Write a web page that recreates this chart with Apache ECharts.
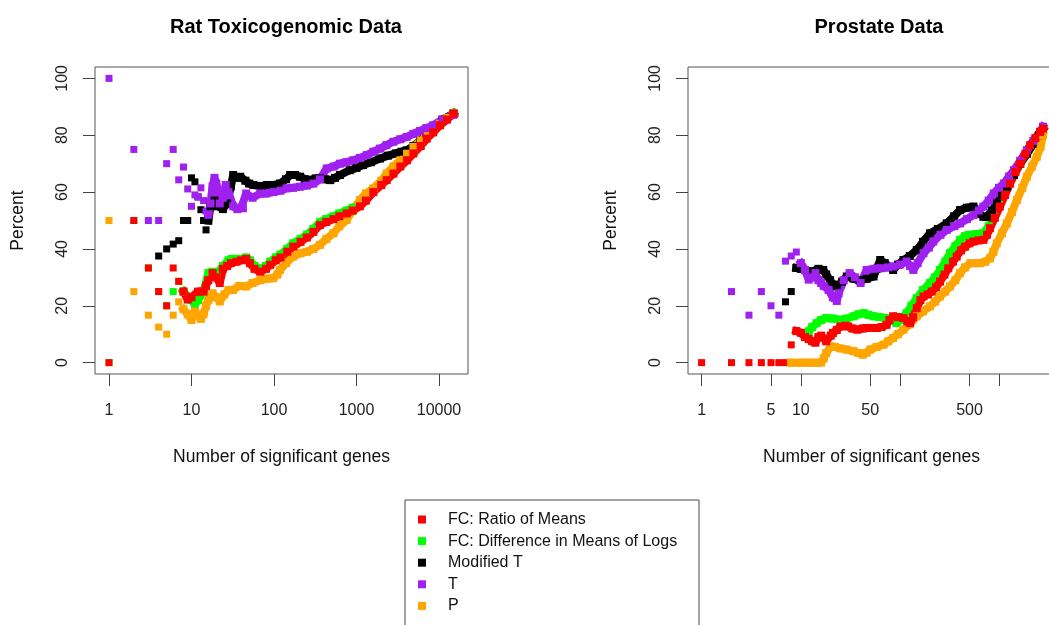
<!DOCTYPE html>
<html>
<head>
<meta charset="utf-8">
<script src="https://cdn.jsdelivr.net/npm/echarts@6/dist/echarts.min.js"></script>
<style>
  html, body { margin: 0; padding: 0; background: #fff; }
  #chart { width: 1049px; height: 625px; }
</style>
</head>
<body>
<div id="chart"></div>
<script>
// method names, in legend order
const methods = ["FC: Ratio of Means", "FC: Difference in Means of Logs", "Modified T", "T", "P"];
const methodColors = ["#FF0000", "#00FF00", "#000000", "#A020F0", "#FFA500"];

// x tick labels (number of significant genes)
const ratTicks = [1, 10, 100, 1000, 10000];
const prostateTicks = [1, 5, 10, 50, 100, 500, 1000];
const prostateTickLabels = [1, 5, 10, 50, 500];
const percentTicks = [0, 20, 40, 60, 80, 100];

// ---- Rat Toxicogenomic data: [genes, percent] ----
const ratRedDots = [[1, 0], [2, 50], [3, 33.3], [4, 25], [5, 20], [6, 33.3], [7, 28.6]];
const ratRedBand = [[8, 25], [9, 22.2], [10, 23], [12, 25], [14, 25], [15, 27], [16, 29], [18, 31.5], [20, 30],
  [22, 28], [24, 33], [27, 34], [30, 35], [35, 35.5], [40, 36], [46, 36.5], [51, 35], [58, 33], [68, 32],
  [80, 33], [90, 34.4], [105, 36], [120, 37], [145, 39], [171, 40.8], [210, 42.5], [250, 44], [300, 46],
  [360, 48.4], [430, 49.5], [525, 50.5], [620, 51.5], [760, 52.5], [900, 53.5], [1100, 55], [1300, 57],
  [1600, 60], [2000, 62.5], [2320, 64.2], [2800, 66.5], [3400, 69], [4100, 71.2], [4900, 73.6], [6000, 76.2],
  [7100, 78.8], [8500, 81], [10300, 83.5], [12500, 85.5], [15000, 87.6]];

const ratGreenDots = [[1, 0], [2, 50], [3, 33.3], [4, 25], [5, 20], [6, 25], [7, 28.6]];
const ratGreenBand = [[8, 25], [10, 22], [11, 20.4], [12, 22], [14, 25], [16, 31.5], [18, 32], [20, 31],
  [24, 34], [28, 36], [31, 36.5], [35, 36.5], [40, 36.5], [46, 37], [51, 36], [58, 34], [68, 33], [80, 34],
  [90, 35.5], [105, 37], [120, 38], [145, 40], [171, 42], [210, 43.5], [250, 45], [300, 47], [360, 49.4],
  [430, 50.5], [525, 51.5], [620, 52.5], [760, 53.5], [900, 54.5], [1100, 56], [1300, 58], [1600, 61],
  [2000, 63.5], [2320, 65], [2800, 67.3], [3400, 69.8], [4100, 72], [4900, 74.2], [6000, 76.8], [7100, 79.3],
  [8500, 81.5], [10300, 84], [12500, 86], [15000, 87.8]];

const ratBlackDots = [[4, 37.5], [5, 40], [6, 41.7], [7, 42.9], [8, 50], [9, 50], [10, 65], [11, 63.6],
  [12, 58.3], [13, 53.8], [14, 50], [15, 46.7]];
const ratBlackBand = [[16, 50], [17, 55], [19, 57], [21, 55], [24, 54], [27, 56], [30, 62], [32, 66], [36, 65],
  [39, 65.4], [45, 64], [50, 63], [56, 62.5], [71, 62], [82, 62.5], [100, 62.5], [118, 63], [140, 64.5],
  [157, 66], [180, 66], [207, 65.4], [240, 64.5], [270, 64.2], [320, 64.8], [360, 64.8], [420, 64.5],
  [480, 64.2], [550, 65], [630, 66], [830, 67.7], [1000, 68.5], [1200, 69.5], [1500, 70.5], [1930, 71.8],
  [2400, 72.8], [3000, 73.6], [3500, 74.2], [4050, 74.7], [4900, 76.2], [5900, 78], [7000, 80.5],
  [8500, 82.8], [11000, 85.5], [15000, 87.6]];

const ratPurpleDots = [[1, 100], [2, 75], [3, 50], [4, 50], [5, 70], [6, 75], [7, 64.3], [8, 68.8], [9, 61.1],
  [10, 55], [11, 59], [12, 58.3], [13, 61.5], [14, 57], [15, 53.3]];
const ratPurpleBand = [[16, 52], [17, 56], [18, 62], [19, 65], [20, 63], [22, 56], [24, 58], [26, 62.5],
  [28, 60], [32, 55], [36, 54], [40, 54.5], [42, 54.3], [46, 59.5], [55, 58], [68, 59.5], [80, 59.5],
  [98, 60], [120, 60.5], [142, 61.3], [170, 61.5], [207, 61.9], [250, 62.3], [300, 63], [360, 64.5],
  [435, 68.3], [530, 69], [630, 70], [750, 70.5], [915, 71.2], [1100, 72], [1330, 73], [1600, 74.2],
  [1930, 75.3], [2300, 76.5], [2800, 77.7], [3400, 78.6], [4050, 79.4], [4900, 80.5], [5900, 81.5],
  [7000, 82.5], [8500, 83.5], [11000, 85.5], [15000, 87.2]];

const ratOrangeDots = [[1, 50], [2, 25], [3, 16.7], [4, 12.5], [5, 10], [6, 16.7], [7, 21.4]];
const ratOrangeBand = [[8, 18.8], [9, 17], [10, 15], [11, 18], [12, 16.7], [13, 15.4], [14, 17], [15, 20],
  [16, 22], [18, 24.4], [20, 23], [22, 21.5], [25, 24], [28, 25.5], [32, 25.6], [38, 27], [46, 26.8],
  [55, 28], [68, 29], [80, 29.5], [98, 29.7], [110, 31], [118, 32.6], [140, 35], [171, 37.3], [210, 38.5],
  [250, 39], [300, 40], [360, 41.4], [430, 43.5], [525, 45.5], [620, 48], [760, 50.2], [900, 53.5],
  [1100, 57.2], [1300, 59.5], [1600, 61.3], [2000, 64], [2320, 66.5], [2800, 69], [3400, 71.2], [4100, 73.5],
  [4900, 75.9], [6000, 78], [7100, 80], [8500, 82], [10300, 84], [12500, 86], [15000, 87.6]];

// ---- Prostate data: [genes, percent] ----
const proRedDots = [[1, 0], [2, 0], [3, 0], [4, 0], [5, 0], [6, 0], [7, 0], [8, 6.25]];
const proRedBand = [[9, 11.1], [10, 10.5], [11, 9], [12, 8.3], [13, 7.5], [14, 7], [15, 9], [16, 9.5],
  [18, 7.5], [20, 9.5], [21, 10.4], [23, 11.5], [25, 12.7], [28, 13], [30, 12.7], [33, 12], [37, 11.6],
  [42, 12], [46, 12.2], [52, 12.2], [58, 12.2], [65, 12.5], [73, 13.3], [78, 15], [85, 16.3], [95, 16],
  [108, 15.7], [118, 14.5], [126, 13.9], [135, 16], [147, 19.2], [160, 22], [172, 23.3], [190, 24],
  [208, 25], [230, 26.5], [252, 28.5], [280, 31], [306, 33.2], [340, 35.5], [371, 37.3], [410, 39.5],
  [451, 40.8], [500, 42], [548, 42.6], [620, 43], [690, 43.2], [750, 45], [805, 47.3], [900, 51],
  [1010, 54.9], [1140, 59], [1280, 63], [1450, 67], [1620, 70], [1830, 73.5], [2040, 76.5], [2300, 79],
  [2570, 81.2], [2750, 82.3]];

const proGreenDots = [];
const proGreenBand = [[12, 11], [13, 12.5], [14.4, 13.9], [16, 15], [18, 15.7], [21, 15.5], [25, 15.1],
  [29, 15.5], [34, 16.3], [38, 17], [43, 17.4], [48, 16.8], [54, 16.3], [62, 16], [73, 15.7], [82, 15],
  [92, 13.9], [100, 15], [116, 17.4], [130, 20], [147, 22.7], [170, 25.5], [200, 28], [225, 30],
  [252, 32.6], [285, 35.5], [318, 38.5], [360, 41], [402, 43.2], [450, 44.5], [487, 44.9], [580, 45.2],
  [690, 45.5], [780, 48], [877, 51.3], [990, 55.5], [1110, 59.5], [1250, 63], [1400, 66.5], [1620, 70],
  [1890, 73.6], [2200, 77], [2570, 80.6], [2750, 82]];

const proBlackDots = [[7, 21.4], [8, 25]];
const proBlackBand = [[9, 33.3], [10, 33], [11, 32.6], [13, 32], [15, 33], [16.8, 32.6], [18, 31],
  [19.7, 29], [21, 27.5], [23, 26.8], [26, 28.5], [29, 30.3], [34, 29.5], [39, 29], [46, 29.5], [54, 30.3],
  [58, 33], [63, 36.1], [70, 35], [85, 32.6], [95, 34.5], [108, 36.1], [125, 37.5], [147, 39.6],
  [170, 42.5], [200, 45.5], [240, 47], [295, 49], [350, 51.5], [402, 53.7], [470, 54.5], [548, 54.9],
  [620, 52.5], [690, 51.3], [748, 51.3], [840, 53.5], [942, 56], [1060, 59], [1190, 61.9], [1400, 66],
  [1620, 70], [1900, 73.5], [2200, 77], [2500, 80], [2750, 82]];

const proPurpleDots = [[2, 25], [3, 16.7], [4, 25], [5, 20], [6, 16.7], [7, 35.7], [8, 37.5], [9, 38.9]];
const proPurpleBand = [[10, 35], [11, 32.6], [12, 29.2], [13, 30], [14, 31.5], [15, 29], [16, 28],
  [17, 27], [19, 25.6], [21, 23], [22, 22.7], [23, 21.7], [24, 24.4], [27, 29], [31, 31.5], [35, 30],
  [40, 28], [46, 32.6], [55, 33], [63, 33.2], [75, 33.5], [85, 33.8], [100, 34.5], [116, 35.6], [126, 34],
  [136, 32.6], [150, 35], [172, 38.5], [195, 40.5], [216, 42.6], [255, 45], [295, 46.7], [350, 48],
  [402, 49], [470, 50.5], [548, 51.9], [620, 53.5], [690, 54.9], [780, 57], [877, 59.5], [990, 61.5],
  [1110, 63], [1250, 65.5], [1400, 67.7], [1620, 71], [1890, 74.7], [2200, 78], [2570, 81.2], [2750, 83]];

const proOrangeDots = [];
const proOrangeBand = [[8, 0], [10, 0], [12, 0], [14, 0], [16, 0], [17, 1.5], [18, 3.4], [20, 5.7],
  [22, 5.5], [25, 5], [29, 4.6], [34, 4], [38, 3.4], [42, 2.8], [46, 3.5], [50, 4.6], [58, 5.5], [68, 6.3],
  [76, 7.5], [85, 8.7], [95, 10], [108, 11.6], [125, 13.5], [147, 16.3], [170, 18], [200, 19.8],
  [225, 21.5], [252, 23.3], [285, 25], [318, 26.8], [360, 29], [402, 31.5], [450, 33.5], [510, 35],
  [580, 35], [640, 35], [720, 35.5], [805, 36.7], [870, 39], [942, 42], [1060, 45.5], [1190, 49],
  [1340, 53], [1500, 57.2], [1700, 61.5], [1890, 65.4], [2130, 69], [2380, 72.4], [2600, 76], [2750, 80]];

const FONT = "Liberation Sans, Arial, Helvetica, sans-serif";
const chart = echarts.init(document.getElementById("chart"), null, { renderer: "canvas" });

// x is plotted as log10(genes) on a plain value axis, like R's log="x"
const toLog = (pts) => pts.map((p) => [Math.log10(p[0]), p[1]]);

// draw order: green, black, orange, purple, red (red ends up on top)
const drawOrder = [1, 2, 4, 3, 0];

function buildSeries(gridIndex, dotsList, bandList) {
  const out = [];
  drawOrder.forEach((m) => {
    const color = methodColors[m];
    out.push({
      name: methods[m],
      type: "line",
      xAxisIndex: gridIndex,
      yAxisIndex: gridIndex,
      data: toLog(bandList[m]),
      symbol: "rect",
      symbolSize: 8,
      showSymbol: true,
      itemStyle: { color: color },
      lineStyle: { color: color, width: 8, cap: "square", join: "bevel" },
      emphasis: { disabled: true },
      silent: true,
    });
    out.push({
      name: methods[m],
      type: "scatter",
      xAxisIndex: gridIndex,
      yAxisIndex: gridIndex,
      data: toLog(dotsList[m]),
      symbol: "rect",
      symbolSize: 7,
      itemStyle: { color: color, opacity: 1 },
      emphasis: { disabled: true },
      silent: true,
    });
  });
  return out;
}

const ratSeries = buildSeries(0,
  [ratRedDots, ratGreenDots, ratBlackDots, ratPurpleDots, ratOrangeDots],
  [ratRedBand, ratGreenBand, ratBlackBand, ratPurpleBand, ratOrangeBand]);
const proSeries = buildSeries(1,
  [proRedDots, proGreenDots, proBlackDots, proPurpleDots, proOrangeDots],
  [proRedBand, proGreenBand, proBlackBand, proPurpleBand, proOrangeBand]);

function xAxisFor(gridIndex, min, max, ticks, labels) {
  return {
    type: "value",
    gridIndex: gridIndex,
    min: min,
    max: max,
    name: "Number of significant genes",
    nameLocation: "middle",
    nameGap: 74,
    nameTextStyle: { color: "#111", fontFamily: FONT, fontSize: 17.5 },
    axisLine: { show: false, onZero: false },
    axisTick: {
      show: true,
      inside: false,
      length: 12,
      customValues: ticks.map((t) => Math.log10(t)),
      lineStyle: { color: "#444", width: 1 },
    },
    axisLabel: {
      show: true,
      margin: 29,
      color: "#222",
      fontFamily: FONT,
      fontSize: 16,
      customValues: labels.map((t) => Math.log10(t)),
      formatter: (v) => String(Math.round(Math.pow(10, v))),
    },
    splitLine: { show: false },
  };
}

function yAxisFor(gridIndex) {
  return {
    type: "value",
    gridIndex: gridIndex,
    min: -4,
    max: 104,
    name: "Percent",
    nameLocation: "middle",
    nameGap: 68,
    nameRotate: 90,
    nameTextStyle: { color: "#111", fontFamily: FONT, fontSize: 17.5 },
    axisLine: { show: false, onZero: false },
    axisTick: {
      show: true,
      inside: false,
      length: 12,
      customValues: percentTicks,
      lineStyle: { color: "#444", width: 1 },
    },
    axisLabel: {
      show: true,
      rotate: 90,
      margin: 24,
      color: "#222",
      fontFamily: FONT,
      fontSize: 16,
      customValues: percentTicks,
    },
    splitLine: { show: false },
  };
}

const option = {
  backgroundColor: "#ffffff",
  animation: false,
  title: [
    {
      text: "Rat Toxicogenomic Data",
      left: 281,
      top: 12,
      textAlign: "center",
      textStyle: { fontFamily: FONT, fontSize: 20, fontWeight: "bold", color: "#000" },
    },
    {
      text: "Prostate Data",
      left: 874,
      top: 12,
      textAlign: "center",
      textStyle: { fontFamily: FONT, fontSize: 20, fontWeight: "bold", color: "#000" },
    },
  ],
  // legend frame runs past the bottom of the picture, as in the original
  graphic: [
    {
      type: "rect",
      shape: { x: 405, y: 500, width: 294, height: 160 },
      style: { fill: "none", stroke: "#444", lineWidth: 1 },
      silent: true,
      z: 1,
    },
  ],
  legend: {
    data: methods,
    orient: "vertical",
    left: 418,
    top: 511.5,
    icon: "rect",
    itemWidth: 8,
    itemHeight: 8,
    itemGap: 5.6,
    padding: 0,
    selectedMode: false,
    textStyle: {
      fontFamily: FONT,
      fontSize: 16,
      lineHeight: 16,
      color: "#111",
      padding: [0, 0, 0, 17],
    },
  },
  grid: [
    { left: 95, top: 67, width: 373, height: 307, outerBoundsMode: "none", show: true, borderColor: "#555", borderWidth: 1, backgroundColor: "transparent" },
    { left: 688, top: 67, width: 367, height: 307, outerBoundsMode: "none", show: true, borderColor: "#555", borderWidth: 1, backgroundColor: "transparent" },
  ],
  xAxis: [
    xAxisFor(0, -0.1697, 4.3515, ratTicks, ratTicks),
    xAxisFor(1, -0.137, 3.56, prostateTicks, prostateTickLabels),
  ],
  yAxis: [yAxisFor(0), yAxisFor(1)],
  series: ratSeries.concat(proSeries),
};

chart.setOption(option);
</script>
</body>
</html>
